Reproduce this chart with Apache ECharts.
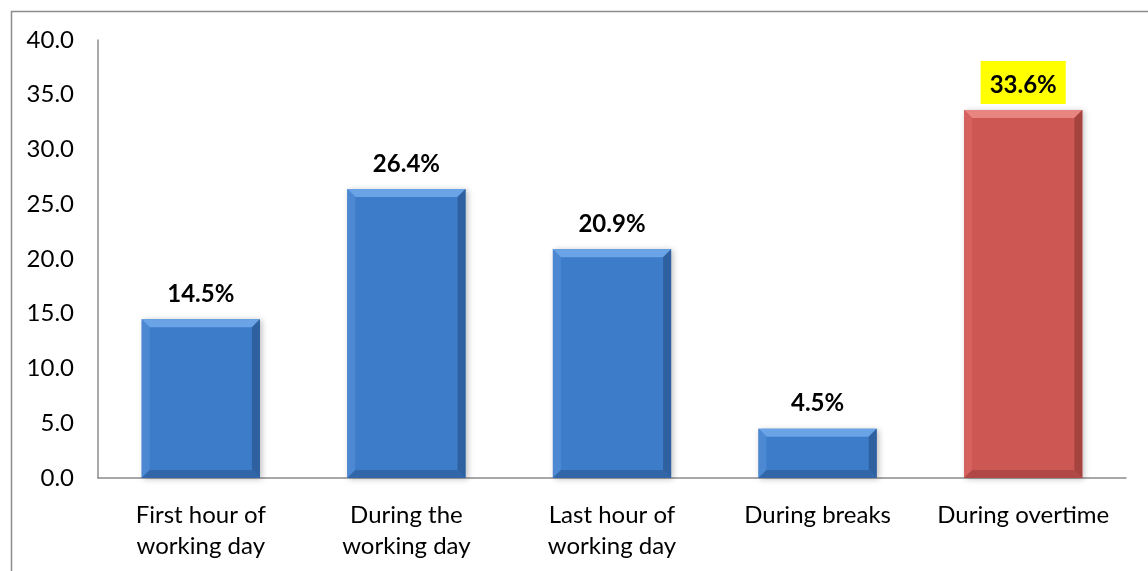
<!DOCTYPE html>
<html>
<head>
<meta charset="utf-8">
<style>
  html, body { margin: 0; padding: 0; background: #fff; }
  #chart { width: 1148px; height: 571px; }
</style>
<script src="https://cdn.jsdelivr.net/npm/echarts@6/dist/echarts.min.js"></script>
</head>
<body>
<div id="chart"></div>
<script>
// Share of responses by time of the working day (%)
const categories = [
  'First hour of\nworking day',
  'During the\nworking day',
  'Last hour of\nworking day',
  'During breaks',
  'During overtime'
];
const values = [14.5, 26.4, 20.9, 4.5, 33.6];
const yTicks = { min: 0, max: 40, interval: 5 };

const FONT = 'Lato, "Open Sans", sans-serif';

// Bevelled bar palettes: face, top, left, right, bottom
const bluePalette = { face: '#3d7cc9', top: '#6aa3e6', left: '#4d88d2', right: '#2f609f', bottom: '#3166a8' };
const redPalette  = { face: '#cd5753', top: '#e88581', left: '#d5625e', right: '#a5433f', bottom: '#b04845' };

function renderBar(params, api) {
  const idx = api.value(0);
  const val = api.value(1);
  const top = api.coord([idx, val]);
  const base = api.coord([idx, 0]);
  const w = api.size([1, 0])[0] * 0.575;
  const x0 = top[0] - w / 2, x1 = top[0] + w / 2;
  const y0 = top[1], y1 = base[1];
  const b = Math.min(8, (y1 - y0) / 2);
  const pal = idx === values.length - 1 ? redPalette : bluePalette;
  const poly = (pts, fill) => ({ type: 'polygon', shape: { points: pts }, style: { fill: fill } });
  const children = [
    {
      type: 'rect',
      shape: { x: x0, y: y0, width: w, height: y1 - y0 },
      style: { fill: pal.face, shadowBlur: 6, shadowColor: 'rgba(0,0,0,0.25)', shadowOffsetX: 2, shadowOffsetY: 1 }
    },
    poly([[x0, y0], [x1, y0], [x1 - b, y0 + b], [x0 + b, y0 + b]], pal.top),
    poly([[x0, y0], [x0 + b, y0 + b], [x0 + b, y1 - b], [x0, y1]], pal.left),
    poly([[x1, y0], [x1, y1], [x1 - b, y1 - b], [x1 - b, y0 + b]], pal.right),
    poly([[x0, y1], [x0 + b, y1 - b], [x1 - b, y1 - b], [x1, y1]], pal.bottom)
  ];
  const isLast = idx === values.length - 1;
  children.push({
    type: 'text',
    style: {
      text: val.toFixed(1) + '%',
      x: top[0],
      y: y0 - (isLast ? 6 : 13),
      align: 'center',
      verticalAlign: 'bottom',
      font: 'bold 24px ' + FONT,
      fill: '#000',
      backgroundColor: isLast ? '#ffff00' : null,
      padding: isLast ? [12, 9, 7, 9] : 0
    }
  });
  return { type: 'group', children: children };
}

const chart = echarts.init(document.getElementById('chart'), null, { renderer: 'canvas' });
chart.setOption({
  animation: false,
  backgroundColor: '#ffffff',
  graphic: [{
    type: 'rect',
    left: 9, top: 9,
    shape: { width: 1160, height: 600 },
    style: { fill: 'none', stroke: '#8c8c8c', lineWidth: 1.5 },
    silent: true
  }],
  grid: { left: 98, right: 22, top: 40, bottom: 93 },
  xAxis: {
    type: 'category',
    data: categories,
    axisLine: { lineStyle: { color: '#8c8c8c', width: 1.5 } },
    axisTick: { show: false },
    axisLabel: { color: '#000', fontFamily: FONT, fontSize: 24, lineHeight: 31, margin: 22, interval: 0 }
  },
  yAxis: {
    type: 'value',
    min: yTicks.min, max: yTicks.max, interval: yTicks.interval,
    axisLine: { show: true, lineStyle: { color: '#8c8c8c', width: 1.5 } },
    axisTick: { show: false },
    splitLine: { show: false },
    axisLabel: { color: '#000', fontFamily: FONT, fontSize: 24, margin: 24, formatter: v => v.toFixed(1) }
  },
  series: [{
    type: 'custom',
    renderItem: renderBar,
    encode: { x: 0, y: 1 },
    data: values.map((v, i) => [i, v]),
    clip: false
  }]
});
</script>
</body>
</html>
